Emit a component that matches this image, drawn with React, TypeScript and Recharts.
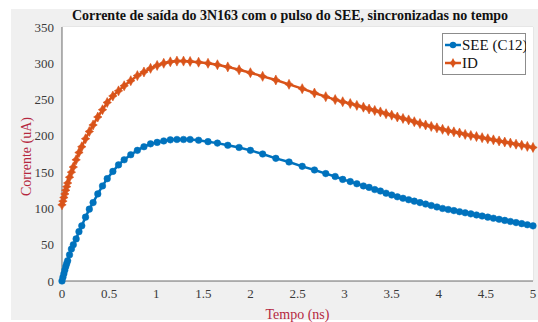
import { CartesianGrid, Line, LineChart, XAxis, YAxis } from "recharts";

const TIME = [
  0, 0.01, 0.02, 0.03, 0.04, 0.05, 0.06, 0.08, 0.1, 0.12, 0.15, 0.18, 0.21, 0.25, 0.29, 0.33, 0.38,
  0.43, 0.48, 0.54, 0.6, 0.66, 0.73, 0.8, 0.87, 0.94, 1.01, 1.08, 1.15, 1.22, 1.29, 1.36, 1.45, 1.55,
  1.65, 1.76, 1.88, 2.0, 2.13, 2.27, 2.41, 2.55, 2.68, 2.8, 2.9, 2.98, 3.06, 3.13, 3.2, 3.26, 3.32,
  3.38, 3.44, 3.5, 3.56, 3.62, 3.68, 3.74, 3.8, 3.86, 3.92, 3.98, 4.04, 4.1, 4.16, 4.22, 4.28, 4.34,
  4.4, 4.46, 4.52, 4.58, 4.64, 4.7, 4.76, 4.82, 4.88, 4.94, 5.0,
];

const SEE = [
  0, 5, 10, 15, 20, 24, 28, 36, 44, 50, 58, 68, 76, 88, 99, 108, 120, 131, 141, 151, 160, 167, 174,
  180, 185, 189, 191, 193, 194.5, 195, 195, 195, 194, 192, 190, 187, 184, 180, 175, 169, 164, 158,
  153, 148, 144, 140, 137, 134, 131, 129, 126, 124, 121, 118.5, 116, 114, 112, 110, 108, 106, 104,
  102, 100, 98.5, 97, 95.5, 94, 92.5, 91, 89.5, 88, 86.5, 85, 83.5, 82, 80.5, 79, 77.5, 76,
];

const ID = [
  105, 110, 115, 120, 125, 130, 135, 143, 150, 157, 167, 177, 185, 196, 206, 215, 226, 236, 246, 255,
  262, 269, 276, 283, 288, 293, 297, 300, 302, 303, 303, 302.5, 301.5, 300, 298, 295, 291, 287, 282,
  277, 271, 265, 259, 254, 250, 247, 244.5, 242, 239.5, 237, 235, 233, 230.5, 228.5, 226, 224, 222,
  219.5, 217, 215, 213, 211, 209, 207, 205.5, 204, 202, 200.5, 199, 197.5, 196, 194.5, 193, 191.5,
  190, 188.5, 187, 185.5, 184,
];

const X_TICKS = [0, 0.5, 1, 1.5, 2, 2.5, 3, 3.5, 4, 4.5, 5];
const Y_TICKS = [0, 50, 100, 150, 200, 250, 300, 350];

const data = TIME.map((t, i) => ({ t, see: SEE[i], id: ID[i] }));

const BLUE = "#0072bd";
const ORANGE = "#d95319";
const LABEL = "#b5283f";
const FONT = "Liberation Serif, Times New Roman, serif";
const STAR = "M0,-5 L1.7,-1.7 L4.2,0 L1.7,1.7 L0,5 L-1.7,1.7 L-4.2,0 L-1.7,-1.7Z";

const blueDot = (p: any) => (
  <circle key={`b${p.index}`} cx={p.cx} cy={p.cy} r={3.3} fill={BLUE} stroke={BLUE} strokeWidth={0.5} />
);
const orangeDot = (p: any) => (
  <path key={`o${p.index}`} d={STAR} transform={`translate(${p.cx},${p.cy})`} fill={ORANGE} stroke={ORANGE} strokeWidth={0.6} />
);

function LegendBox() {
  const row = (color: string, star: boolean, label: string, y: number) => (
    <g>
      <line x1={3} x2={19} y1={y} y2={y} stroke={color} strokeWidth={2.5} />
      {star ? (
        <path d={STAR} transform={`translate(11,${y})`} fill={color} />
      ) : (
        <circle cx={11} cy={y} r={3.2} fill={color} />
      )}
      <text x={20} y={y + 5} fontSize={15} fontFamily={FONT} fill="#111">
        {label}
      </text>
    </g>
  );
  return (
    <svg width={84} height={42} style={{ display: "block" }}>
      <rect x={0.5} y={0.5} width={83} height={41} fill="#fff" stroke="#8c8c8c" />
      {row(BLUE, false, "SEE (C12)", 12)}
      {row(ORANGE, true, "ID", 30)}
    </svg>
  );
}

export default function App() {
  return (
    <div style={{ position: "fixed", left: 0, top: 0, width: 538, height: 322, background: "#fff", fontFamily: FONT }}>
      <div style={{ position: "absolute", left: 11, top: 9, width: 527, height: 311, background: "#f0f0f0" }} />
      <div style={{ position: "absolute", left: 0, top: 0 }}>
        <LineChart width={538} height={322} data={data} margin={{ top: 27, right: 5, bottom: 21, left: 22 }} style={{ fontFamily: FONT }}>
          <rect x={62} y={27} width={471} height={254} fill="#fff" />
          <CartesianGrid stroke="#dcdcdc" strokeWidth={1} />
          <XAxis
            dataKey="t"
            type="number"
            domain={[0, 5]}
            ticks={X_TICKS}
            height={20}
            stroke="#6e6e6e"
            tickLine={false}
            tick={{ fill: "#3a3a3a", fontSize: 13, fontFamily: FONT }}
            label={{ value: "Tempo (ns)", position: "insideBottom", offset: -18, fill: LABEL, fontSize: 14, fontFamily: FONT }}
          />
          <XAxis xAxisId="top" dataKey="t" type="number" domain={[0, 5]} orientation="top" height={0} tick={false} tickLine={false} stroke="#6e6e6e" />
          <YAxis
            type="number"
            domain={[0, 350]}
            ticks={Y_TICKS}
            width={40}
            stroke="#6e6e6e"
            tickLine={false}
            tick={{ fill: "#3a3a3a", fontSize: 13, fontFamily: FONT }}
            label={{ value: "Corrente (uA)", angle: -90, position: "insideLeft", offset: 4, dy: 42, fill: LABEL, fontSize: 14, fontFamily: FONT }}
          />
          <YAxis yAxisId="right" orientation="right" type="number" domain={[0, 350]} width={0} tick={false} tickLine={false} stroke="#6e6e6e" />
          <Line dataKey="see" stroke={BLUE} strokeWidth={2.5} dot={blueDot} isAnimationActive={false} />
          <Line dataKey="id" stroke={ORANGE} strokeWidth={2.5} dot={orangeDot} isAnimationActive={false} />
          <text x={290} y={20} textAnchor="middle" fontSize={14} fontWeight="bold" fontFamily={FONT} fill="#111">
            Corrente de saída do 3N163 com o pulso do SEE, sincronizadas no tempo
          </text>
        </LineChart>
      </div>
      <div style={{ position: "absolute", left: 442, top: 33 }}>
        <LegendBox />
      </div>
    </div>
  );
}
